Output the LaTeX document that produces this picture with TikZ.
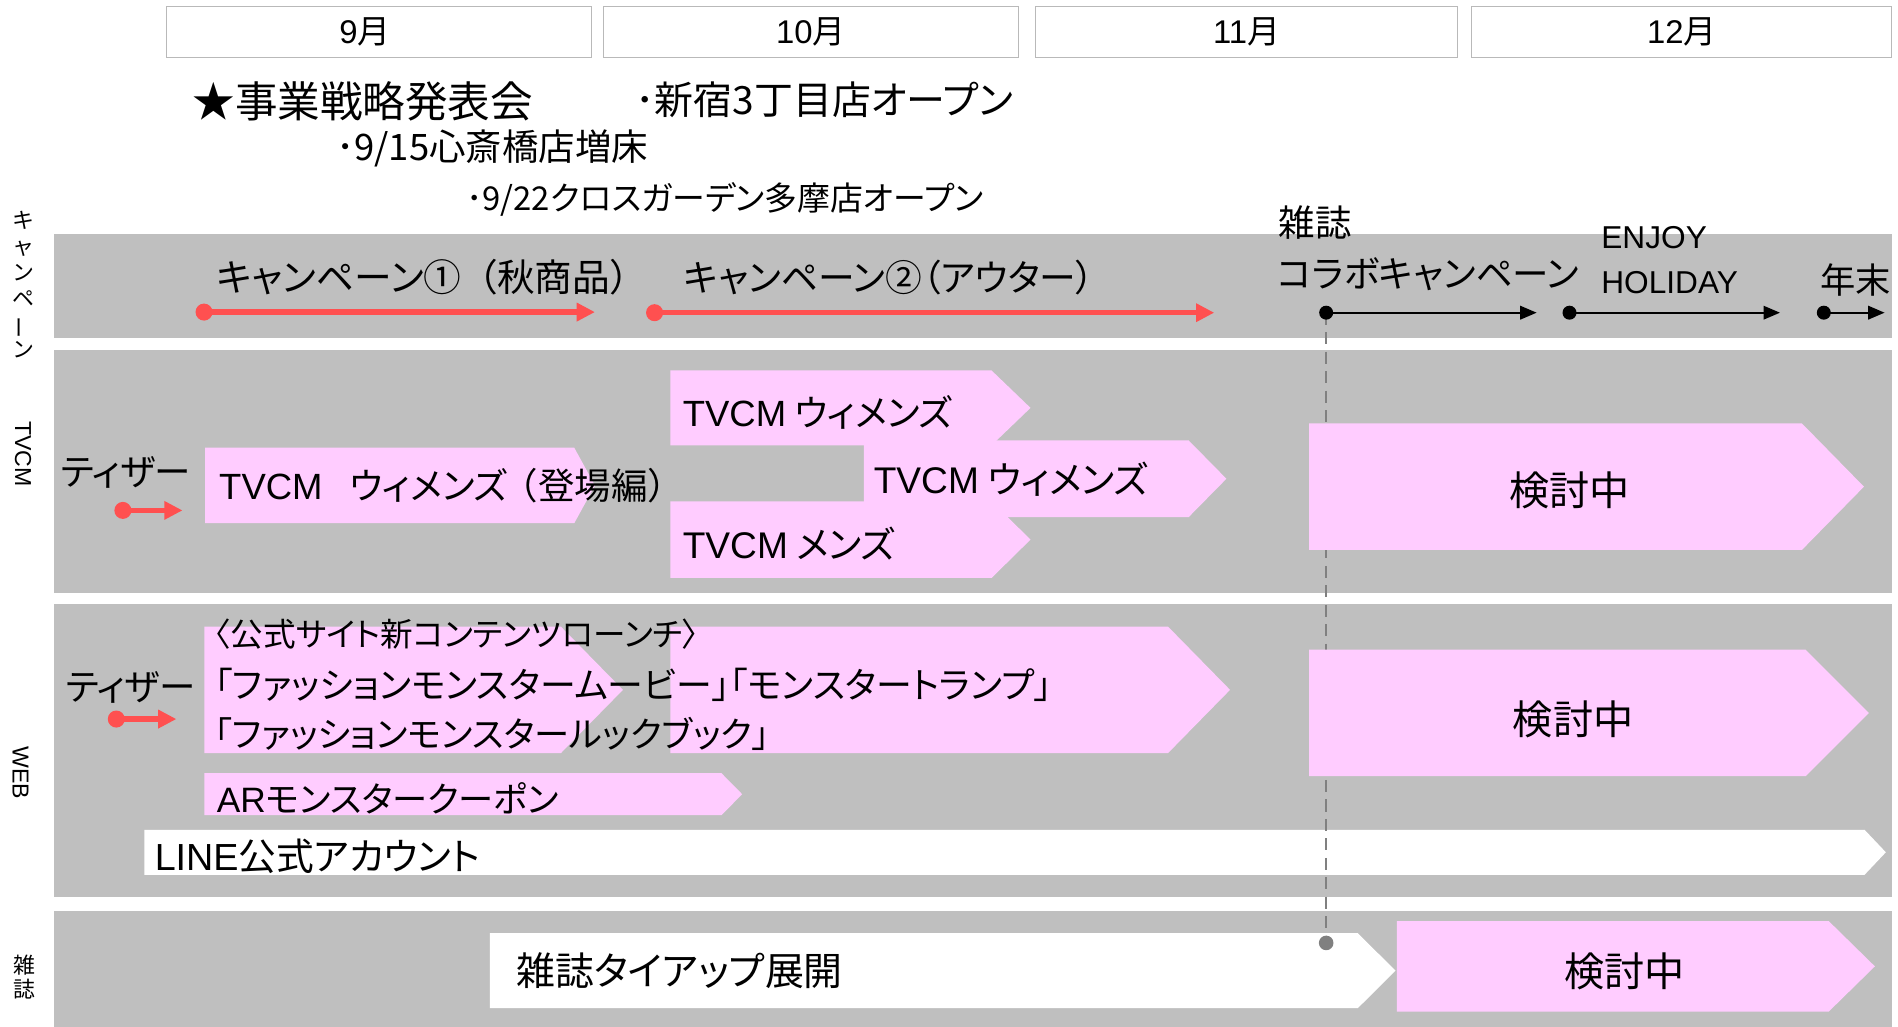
\documentclass[tikz,border=0pt]{standalone}
\usepackage{fontspec}
\usepackage{graphicx}
\setmainfont{Noto Sans CJK JP}[RawFeature=+palt]
\newfontfamily\jpn{Noto Sans CJK JP}
\newfontfamily\lat{Liberation Sans}
\usetikzlibrary{arrows.meta}
\definecolor{bandgray}{RGB}{191,191,191}
\definecolor{pinkfill}{RGB}{255,204,255}
\definecolor{redarr}{RGB}{255,80,80}
\definecolor{dashgray}{RGB}{128,128,128}
\definecolor{boxedge}{RGB}{185,185,185}
\newcommand\fs[1]{\fontsize{#1}{#1}\selectfont}
\newcommand\chev[6]{\fill[#1] (#2,#5) -- (#3,#5) -- (#4,{(#5+#6)/2}) -- (#3,#6) -- (#2,#6) -- cycle;}
\tikzset{
 lbl/.style={inner sep=0pt, anchor=west},
 ctr/.style={inner sep=0pt},
 monthbox/.style={draw=boxedge, fill=white, line width=0.9pt, inner sep=0pt, minimum height=42pt},
 monthtxt/.style={inner sep=0pt, font=\fs{27}},
 reddot/.style={circle, fill=redarr, inner sep=0pt, minimum size=14pt},
 blackdot/.style={circle, fill=black, inner sep=0pt, minimum size=11.5pt},
 graydot/.style={circle, fill=dashgray, inner sep=0pt, minimum size=12pt},
 redline/.style={draw=redarr, line width=4.5pt, -{Triangle[length=15pt,width=14.5pt]}},
 blackline/.style={draw=black, line width=1.8pt, -{Triangle[length=13.5pt,width=11pt]}},
 dashline/.style={draw=dashgray, line width=1.3pt, dash pattern=on 10pt off 6pt},
}
\begin{document}
\begin{tikzpicture}[x=1pt,y=-1pt]
\useasboundingbox (0,0) rectangle (1560,844.1);
% bands
\fill[bandgray] (44.5,192) rectangle (1555,277.5);
\fill[bandgray] (44.5,288) rectangle (1555,487.5);
\fill[bandgray] (44.5,496.5) rectangle (1555,737.5);
\fill[bandgray] (44.5,749) rectangle (1555,844.1);
% months
\node[monthbox, minimum width=349.5pt] (m9) at (311.25,26.5) {};
\node[monthtxt] (m9t) at (300,26.5) {{\lat 9}月};
\node[monthbox, minimum width=341pt] (m10) at (666.5,26.5) {};
\node[monthtxt] (m10t) at (m10.center) {{\lat 10}月};
\node[monthbox, minimum width=347pt] (m11) at (1024.5,26.5) {};
\node[monthtxt] (m11t) at (m11.center) {{\lat 11}月};
\node[monthbox, minimum width=345.5pt] (m12) at (1382.25,26.5) {};
\node[monthtxt] (m12t) at (m12.center) {{\lat 12}月};
% top events
\node[lbl, font=\fs{35}] (ev1) at (158,83.5) {★事業戦略発表会};
\node[lbl, font=\fs{32}] (ev2) at (522,82) {･新宿3丁目店オープン};
\node[lbl, font=\fs{30}] (ev3) at (276,122) {･9/15心斎橋店増床};
\node[lbl, font=\fs{27}] (ev4) at (383,164) {･9/22クロスガーデン多摩店オープン};
% side labels
\node[ctr, font=\fontsize{18}{21.3}\selectfont, align=center] (lc) at (19,234) {キ\\ャ\\ン\\ペ\\\rotatebox[origin=c]{90}{ー}\\ン};
\node[ctr, font=\fs{19}\lat, rotate=-90] (lt) at (19,373) {TVCM};
\node[ctr, font=\fs{19}\lat, rotate=-90] (lw) at (17,635) {WEB};
\node[ctr, font=\fontsize{18}{19.5}\selectfont, align=center] (lz) at (20,803) {雑\\誌};
% white and pink shapes
\chev{white}{118.7}{1532.5}{1550}{682}{719}
\chev{white}{402.6}{1116}{1147}{767}{828.6}
\chev{pinkfill}{168.5}{472}{489}{368}{430}
\chev{pinkfill}{551}{815}{847}{304.5}{366}
\chev{pinkfill}{710}{977}{1008}{362}{425}
\chev{pinkfill}{551}{815}{847}{412}{475}
\chev{pinkfill}{168}{461}{512}{515}{619}
\chev{pinkfill}{551}{960}{1011}{515}{619}
\chev{pinkfill}{168}{593}{610}{635.5}{670}
% dashed line
\coordinate (dtop) at (1090,257);
\coordinate (dbot) at (1090,775);
\draw[dashline] (dtop) -- (dbot);
\chev{pinkfill}{1076}{1481}{1532}{348}{452}
\chev{pinkfill}{1076}{1484}{1536}{534}{638}
\chev{pinkfill}{1148}{1503}{1541}{757}{831.5}
\node[blackdot] (b1s) at (dtop) {};
\node[graydot] (gd) at (dbot) {};
% campaign band
\node[lbl, font=\fs{31}] (c1) at (178,228) {キャンペーン①\hspace{14pt}（秋商品）};
\node[lbl, font=\fs{30.2}] (c2) at (562,228) {キャンペーン②（アウター）};
\node[lbl, font=\fs{30}] (zc1) at (1051,183) {雑誌};
\node[lbl, font=\fs{30}] (zc2) at (1050,225) {コラボキャンペーン};
\node[lbl, font=\fs{26}\lat] (en1) at (1316,195) {ENJOY};
\node[lbl, font=\fs{26}\lat] (en2) at (1316,232) {HOLIDAY};
\node[lbl, font=\fs{29}] (ym) at (1496,230) {年末};
\node[reddot] (r1s) at (167.7,256.5) {};
\coordinate (r1e) at (489,256.5);
\draw[redline] (r1s.center) -- (r1e);
\node[reddot] (r2s) at (538,257) {};
\coordinate (r2e) at (998,257);
\draw[redline] (r2s.center) -- (r2e);
\coordinate (b1e) at (1263,257);
\draw[blackline] (b1s.center) -- (b1e);
\node[blackdot] (b2s) at (1290,257) {};
\coordinate (b2e) at (1463,257);
\draw[blackline] (b2s.center) -- (b2e);
\node[blackdot] (b3s) at (1499,257) {};
\coordinate (b3e) at (1549,257);
\draw[blackline] (b3s.center) -- (b3e);
% TVCM band
\node[lbl, font=\fs{30}] (tz1) at (50,388) {ティザー};
\node[reddot] (r3s) at (101,419.5) {};
\coordinate (r3e) at (150,419.5);
\draw[redline] (r3s.center) -- (r3e);
\node[lbl, font=\fs{30}] (tv1) at (180,399) {{\lat TVCM}\hspace{22pt}ウィメンズ\hspace{-5pt}{\jpn（}登場編{\jpn ）}};
\node[lbl, font=\fs{30}] (tv2) at (561,339) {{\lat TVCM} ウィメンズ};
\node[lbl, font=\fs{30.5}] (tv3) at (718,394) {{\lat TVCM} ウィメンズ};
\node[lbl, font=\fs{30.5}] (tv4) at (561,447) {{\lat TVCM} メンズ};
\node[ctr, font=\fs{33}] (k1) at (1290,403) {検討中};
% WEB band
\node[lbl, font=\fs{30}] (tz2) at (54,565) {ティザー};
\node[reddot] (r4s) at (95.6,591) {};
\coordinate (r4e) at (145,591);
\draw[redline] (r4s.center) -- (r4e);
\node[lbl, font=\fs{26.8}] (w0) at (176,521) {〈公式サイト新コンテンツローンチ〉};
\node[lbl, font=\fs{29.5}] (w1) at (176,563) {「ファッションモンスタームービー」「モンスタートランプ」};
\node[lbl, font=\fs{29}] (w2) at (176,603) {「ファッションモンスタールックブック」};
\node[lbl, font=\fs{29}] (w3) at (178,656) {{\lat AR}モンスタークーポン};
\node[lbl, font=\fs{31}] (w4) at (127,704) {{\lat LINE}公式アカウント};
\node[ctr, font=\fs{33}] (k2) at (1293,591) {検討中};
% magazine band
\node[lbl, font=\fs{32}] (z1) at (424,798) {雑誌タイアップ展開};
\node[ctr, font=\fs{33}] (k3) at (1335,798) {検討中};
\end{tikzpicture}
\end{document}
